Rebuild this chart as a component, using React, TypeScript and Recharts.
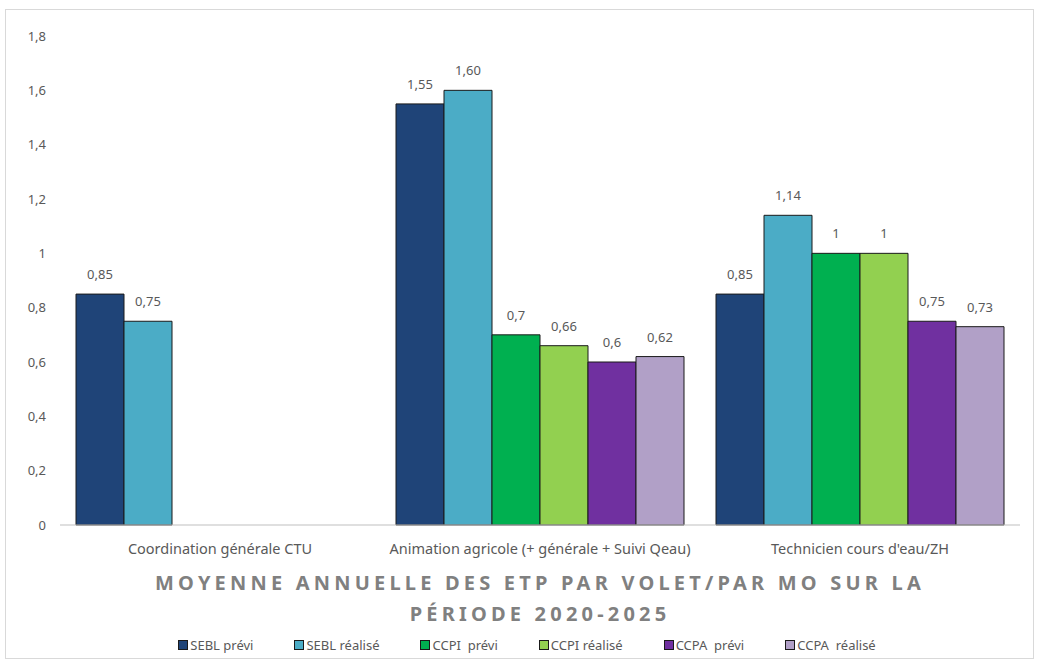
import React from "react";
import { BarChart, Bar, XAxis, YAxis, LabelList } from "recharts";

const categories = [
  "Coordination générale CTU",
  "Animation agricole (+ générale + Suivi Qeau)",
  "Technicien cours d'eau/ZH",
];
const seriesNames = ["SEBL prévi", "SEBL réalisé", "CCPI  prévi", "CCPI réalisé", "CCPA  prévi", "CCPA  réalisé"];
const seriesColors = ["#1F4478", "#4BACC6", "#00B050", "#92D050", "#7030A0", "#B1A0C7"];
const sebPrevi = [0.85, 1.55, 0.85];
const sebRealise = [0.75, 1.6, 1.14];
const ccpiPrevi = [null, 0.7, 1];
const ccpiRealise = [null, 0.66, 1];
const ccpaPrevi = [null, 0.6, 0.75];
const ccpaRealise = [null, 0.62, 0.73];
const sebPreviLabels = ["0,85", "1,55", "0,85"];
const sebRealiseLabels = ["0,75", "1,60", "1,14"];
const ccpiPreviLabels = ["", "0,7", "1"];
const ccpiRealiseLabels = ["", "0,66", "1"];
const ccpaPreviLabels = ["", "0,6", "0,75"];
const ccpaRealiseLabels = ["", "0,62", "0,73"];
const yTicks = [0, 0.2, 0.4, 0.6, 0.8, 1, 1.2, 1.4, 1.6, 1.8];
const titleLines = ["MOYENNE ANNUELLE DES ETP PAR VOLET/PAR MO SUR LA", "PÉRIODE 2020-2025"];

const seriesValues = [sebPrevi, sebRealise, ccpiPrevi, ccpiRealise, ccpaPrevi, ccpaRealise];
const seriesLabels = [sebPreviLabels, sebRealiseLabels, ccpiPreviLabels, ccpiRealiseLabels, ccpaPreviLabels, ccpaRealiseLabels];

const data = categories.map((c, i) => {
  const row: any = { name: c };
  seriesValues.forEach((s, k) => {
    row["s" + k] = s[i];
    row["l" + k] = seriesLabels[k][i];
  });
  return row;
});

const FONT = "'Noto Sans', sans-serif";
const GRAY = "#595959";

const CatTick = (props: any) => {
  const { x, y, payload } = props;
  return (
    <text x={x} y={y + 21} textAnchor="middle" fontSize={14.5} fill={GRAY} fontFamily={FONT}>
      {payload.value}
    </text>
  );
};

export default function App() {
  return (
    <div style={{ position: "absolute", left: 0, top: 0, width: 1038, height: 668, background: "#fff" }}>
      <div
        style={{
          position: "absolute",
          left: 5,
          top: 9,
          width: 1029,
          height: 650,
          border: "1px solid #D9D9D9",
          boxSizing: "border-box",
        }}
      />
      <BarChart
        width={1038}
        height={668}
        data={data}
        margin={{ top: 36, right: 18, left: 0, bottom: 0 }}
        barCategoryGap="5%"
        barGap={0}
      >
        <XAxis
          dataKey="name"
          height={143}
          tickLine={false}
          axisLine={{ stroke: "#BFBFBF" }}
          tick={<CatTick />}
          interval={0}
        />
        <YAxis
          width={60}
          domain={[0, 1.8]}
          ticks={yTicks}
          interval={0}
          axisLine={false}
          tickLine={false}
          tick={{ fontSize: 13, fill: GRAY, fontFamily: FONT, dx: -6 }}
          tickFormatter={(v: number) => String(v).replace(".", ",")}
        />
        {seriesNames.map((n, k) => (
          <Bar
            key={k}
            dataKey={"s" + k}
            name={n}
            fill={seriesColors[k]}
            stroke="#1a1a1a"
            strokeWidth={1}
            isAnimationActive={false}
          >
            <LabelList
              dataKey={"l" + k}
              position="top"
              offset={15}
              fontSize={13}
              fill={GRAY}
              fontFamily={FONT}
            />
          </Bar>
        ))}
      </BarChart>
      <div
        style={{
          position: "absolute",
          left: 21,
          top: 567,
          width: 1038,
          textAlign: "center",
          fontFamily: FONT,
          fontWeight: "bold",
          fontSize: 20,
          letterSpacing: 4.2,
          color: "#808080",
          lineHeight: "31px",
        }}
      >
        {titleLines.map((t, i) => (
          <div key={i}>{t}</div>
        ))}
      </div>
      <div
        style={{
          position: "absolute",
          left: 8,
          top: 636,
          width: 1038,
          display: "flex",
          justifyContent: "center",
          fontFamily: FONT,
          fontSize: 13,
          color: GRAY,
        }}
      >
        {seriesNames.map((n, k) => (
          <div key={k} style={{ display: "flex", alignItems: "center", margin: "0 20.5px", whiteSpace: "pre" }}>
            <span
              style={{
                display: "inline-block",
                width: 8,
                height: 8,
                background: seriesColors[k],
                border: "1px solid #1a1a1a",
                marginRight: 2,
              }}
            />
            {n}
          </div>
        ))}
      </div>
    </div>
  );
}
